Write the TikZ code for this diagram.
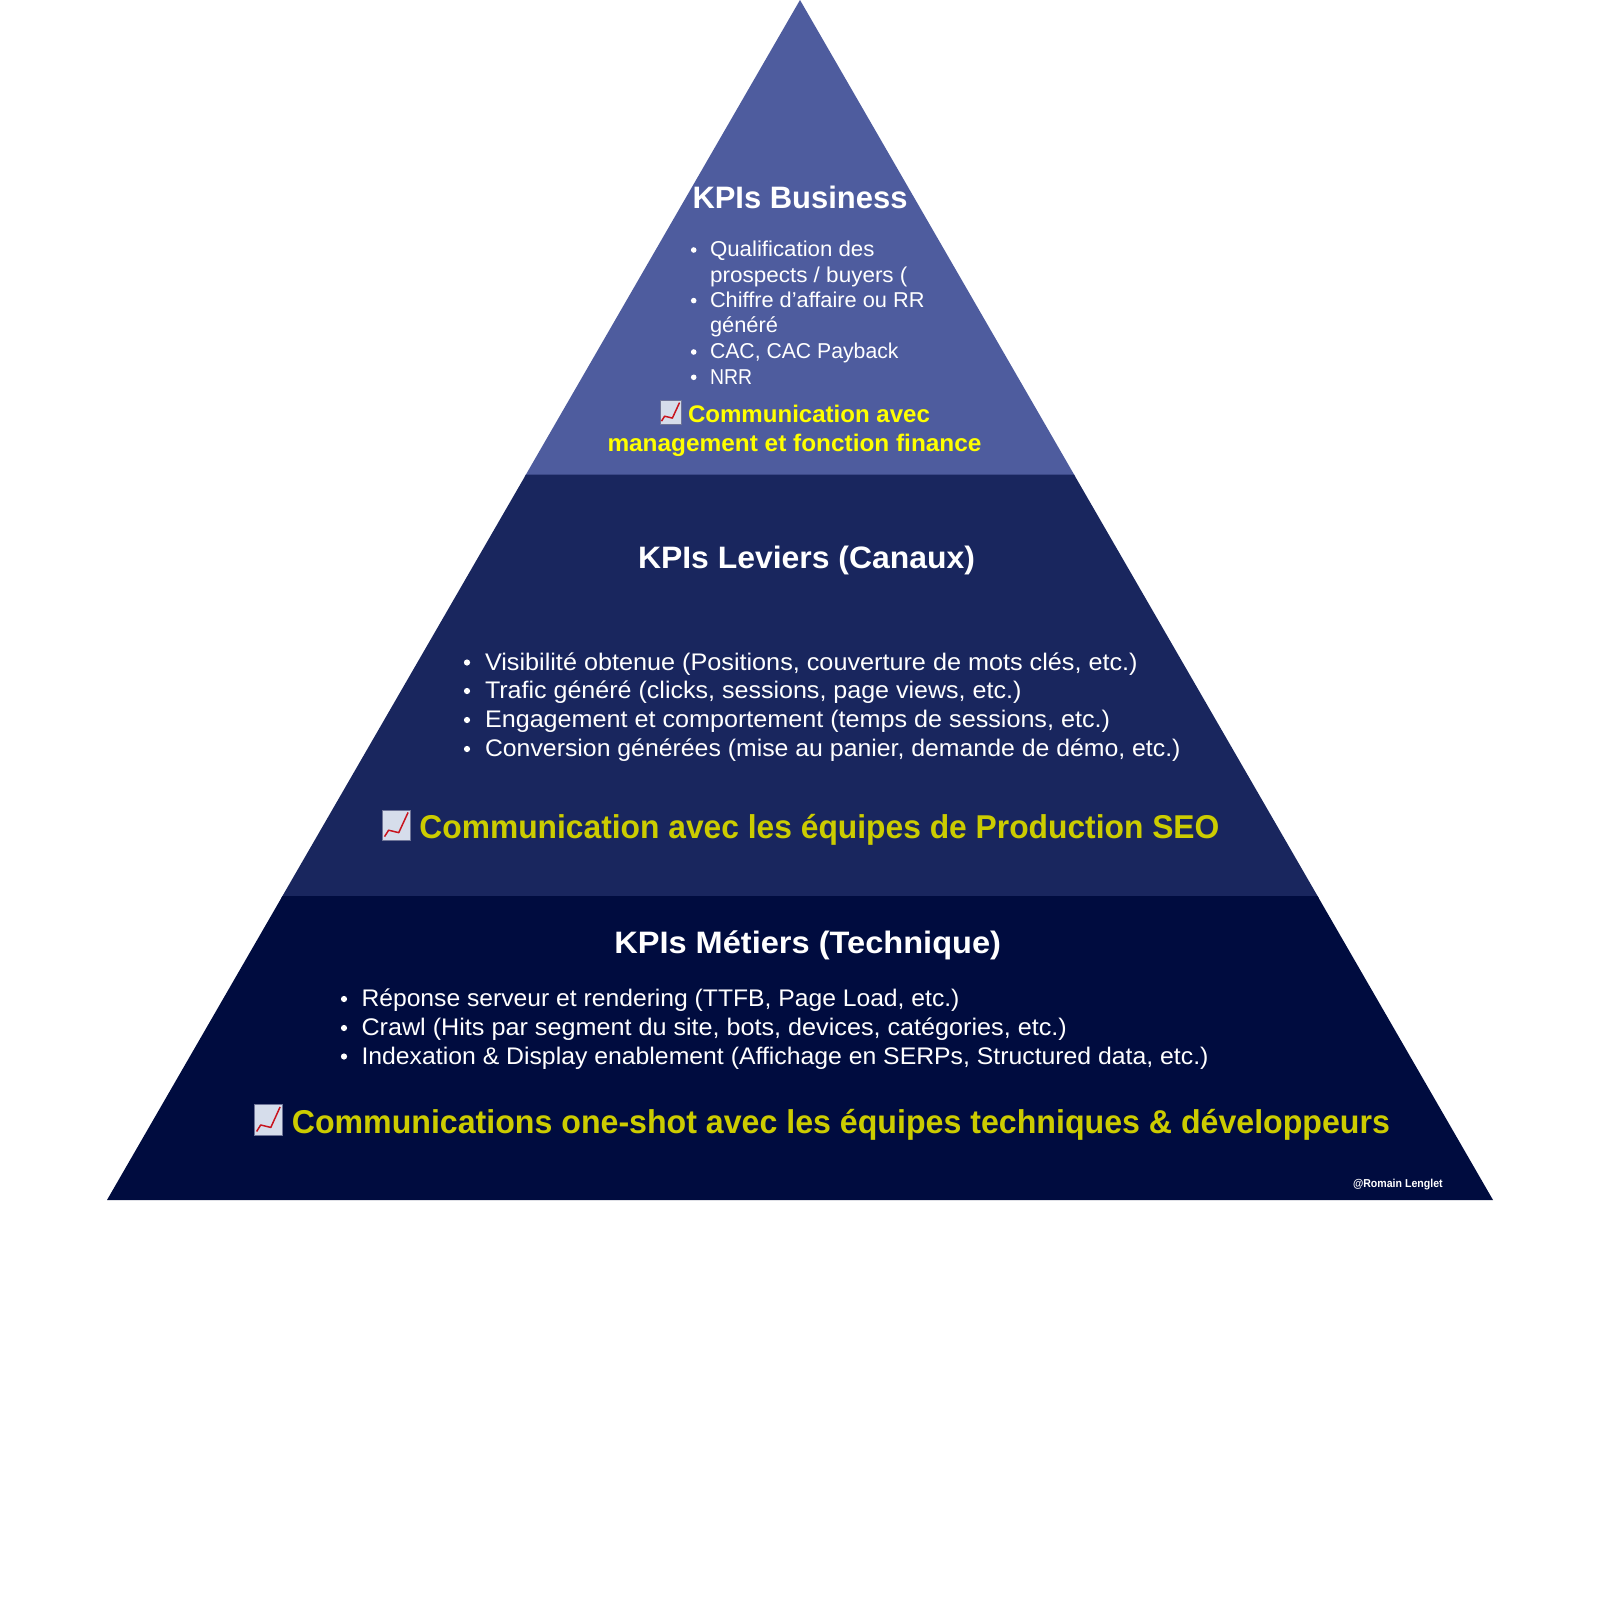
\documentclass[tikz,border=0pt]{standalone}
\usepackage{graphicx}
\usepackage{fontspec}
\setmainfont{Liberation Sans}
\definecolor{bandtop}{HTML}{4E5C9E}
\definecolor{bandmid}{HTML}{19265E}
\definecolor{bandlow}{HTML}{000C3F}
\definecolor{yellowtop}{HTML}{FFFF00}
\definecolor{yellowlow}{HTML}{CCCC00}
\definecolor{iconfill}{HTML}{D6DDEB}
\definecolor{iconedge}{HTML}{6F7598}
\definecolor{iconred}{HTML}{C8141E}
\newcommand{\fitw}[2]{\resizebox{#1pt}{\height}{#2}}
\newcommand{\trendicon}[4]{%
  \begin{scope}[shift={(#1,#2)},x=#3pt,y=-#4pt]
    \fill[iconfill,draw=iconedge,line width=0.8pt] (0,0) rectangle (1,1);
    \draw[iconred,line width=1.5pt,line join=round] (0.07,0.87) -- (0.22,0.66) -- (0.59,0.74) -- (0.93,0.08);
  \end{scope}}
\tikzset{
  txt/.style={anchor=base west,inner sep=0pt,outer sep=0pt,text=white},
  ttl/.style={txt,font=\fontsize{31}{31}\selectfont\bfseries},
  itemA/.style={txt,font=\fontsize{21.5}{21.5}\selectfont},
  itemB/.style={txt,font=\fontsize{24}{24}\selectfont},
  yelA/.style={txt,text=yellowtop,font=\fontsize{24}{24}\selectfont\bfseries},
  yelB/.style={txt,text=yellowlow,font=\fontsize{33}{33}\selectfont\bfseries},
  bulA/.style={circle,fill=white,inner sep=0pt,minimum size=5.6pt},
  bulB/.style={circle,fill=white,inner sep=0pt,minimum size=6.2pt},
  sign/.style={txt,font=\fontsize{11.5}{11.5}\selectfont\bfseries},
}
\begin{document}
\begin{tikzpicture}[x=1pt,y=-1pt]
\useasboundingbox (0,0) rectangle (1600,1600);
\fill[white] (0,0) rectangle (1600,1600);
% pyramid bands, each one laid over the lower edge of the one above
\fill[bandtop] (800,0) -- (1075.2,476.5) -- (524.8,476.5) -- cycle;
\fill[bandmid] (526,474.5) -- (1074,474.5) -- (1318.7,898) -- (281.3,898) -- cycle;
\fill[bandlow] (282.5,896) -- (1317.5,896) -- (1493,1200) -- (107,1200) -- cycle;
% top band
\node[ttl] (t1) at (692.5,208) {\fitw{215}{KPIs Business}};
\node[bulA] (b1a) at (693.7,250) {};
\node[itemA] (i1a) at (710,256.7) {\fitw{164.5}{Qualification des}};
\node[itemA] (i1b) at (710,282) {\fitw{197.5}{prospects / buyers (}};
\node[bulA] (b1c) at (693.7,300.6) {};
\node[itemA] (i1c) at (710,307.3) {\fitw{214.5}{Chiffre d’affaire ou RR}};
\node[itemA] (i1d) at (710,332.7) {\fitw{68}{généré}};
\node[bulA] (b1e) at (693.7,352) {};
\node[itemA] (i1e) at (710,358.7) {\fitw{188.5}{CAC, CAC Payback}};
\node[bulA] (b1f) at (693.7,377.3) {};
\node[itemA] (i1f) at (710,384) {\fitw{42}{NRR}};
\trendicon{660}{400.7}{21}{23.5}
\node[yelA] (y1a) at (688,422) {\fitw{242}{Communication avec}};
\node[yelA] (y1b) at (607.5,451) {\fitw{374}{management et fonction finance}};
% middle band
\node[ttl] (t2) at (638,568) {\fitw{337}{KPIs Leviers (Canaux)}};
\node[bulB] (b2a) at (467,662.5) {};
\node[itemB] (i2a) at (485,670) {\fitw{652.7}{Visibilité obtenue (Positions, couverture de mots clés, etc.)}};
\node[bulB] (b2b) at (467,691) {};
\node[itemB] (i2b) at (485,698.5) {\fitw{536.4}{Trafic généré (clicks, sessions, page views, etc.)}};
\node[bulB] (b2c) at (467,720) {};
\node[itemB] (i2c) at (485,727.5) {\fitw{625}{Engagement et comportement (temps de sessions, etc.)}};
\node[bulB] (b2d) at (467,749) {};
\node[itemB] (i2d) at (485,756.5) {\fitw{695.6}{Conversion générées (mise au panier, demande de démo, etc.)}};
\trendicon{382.6}{810}{27.4}{30.6}
\node[yelB] (y2) at (419.4,838.8) {\fitw{800}{Communication avec les équipes de Production SEO}};
% lower band
\node[ttl] (t3) at (614.3,953.6) {\fitw{386.7}{KPIs Métiers (Technique)}};
\node[bulB] (b3a) at (344,999) {};
\node[itemB] (i3a) at (361.5,1006.5) {\fitw{598}{Réponse serveur et rendering (TTFB, Page Load, etc.)}};
\node[bulB] (b3b) at (344,1028) {};
\node[itemB] (i3b) at (361.5,1035.5) {\fitw{705.3}{Crawl (Hits par segment du site, bots, devices, catégories, etc.)}};
\node[bulB] (b3c) at (344,1056.5) {};
\node[itemB] (i3c) at (361.5,1064) {\fitw{847}{Indexation \& Display enablement (Affichage en SERPs, Structured data, etc.)}};
\trendicon{254.7}{1104.5}{27.3}{31}
\node[yelB] (y3) at (291.8,1133) {\fitw{1098.2}{Communications one-shot avec les équipes techniques \& développeurs}};
\node[sign] (s) at (1353,1187) {\fitw{89.7}{@Romain Lenglet}};
\end{tikzpicture}
\end{document}
